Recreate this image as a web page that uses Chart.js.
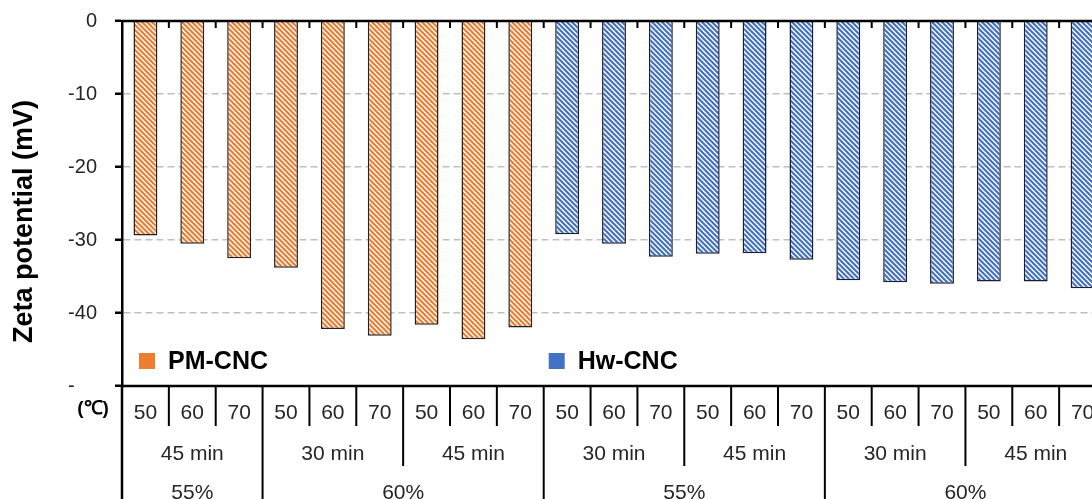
<!DOCTYPE html>
<html>
<head>
<meta charset="utf-8">
<script src="https://cdn.jsdelivr.net/npm/chart.js@4.4.0/dist/chart.umd.min.js"></script>
<style>
  html, body { margin: 0; padding: 0; background: #fff; overflow: hidden; width: 1092px; height: 499px; }
  #wrap { position: absolute; left: 0; top: 0; width: 1112px; height: 540px; }
</style>
</head>
<body>
<div id="wrap"><canvas id="c" width="1112" height="540"></canvas></div>
<script>
// ---- data ----
const temperatures = ['50','60','70','50','60','70','50','60','70','50','60','70','50','60','70','50','60','70','50','60','70'];
const times = ['45 min','45 min','45 min','30 min','30 min','30 min','45 min','45 min','45 min',
               '30 min','30 min','30 min','45 min','45 min','45 min','30 min','30 min','30 min','45 min','45 min','45 min'];
const concentrations = ['55%','55%','55%','60%','60%','60%','60%','60%','60%',
                        '55%','55%','55%','55%','55%','55%','60%','60%','60%','60%','60%','60%'];
const materials = ['PM-CNC','PM-CNC','PM-CNC','PM-CNC','PM-CNC','PM-CNC','PM-CNC','PM-CNC','PM-CNC',
                   'Hw-CNC','Hw-CNC','Hw-CNC','Hw-CNC','Hw-CNC','Hw-CNC','Hw-CNC','Hw-CNC','Hw-CNC','Hw-CNC','Hw-CNC','Hw-CNC'];
const pmValues = [-29.4, -30.5, -32.5, -33.8, -42.2, -43.1, -41.6, -43.6, -42.0,
                  null, null, null, null, null, null, null, null, null, null, null, null];
const hwValues = [null, null, null, null, null, null, null, null, null,
                  -29.2, -30.5, -32.3, -31.9, -31.8, -32.7, -35.5, -35.8, -36.0, -35.7, -35.7, -36.6];
const yTicks = [0, -10, -20, -30, -40, -50];
const yTickLabels = ['0', '-10', '-20', '-30', '-40', '-\u2007\u2007'];
const yTitle = 'Zeta potential (mV)';
const unitLabel = '(\u2103)';

// ---- styling ----
const FONT = "'Liberation Sans', Arial, sans-serif";
const TEXT = '#262626';
const canvas = document.getElementById('c');
const mainCtx = canvas.getContext('2d');

function hatch(color) {
  const s = 5;
  const c = document.createElement('canvas');
  c.width = s; c.height = s;
  const g = c.getContext('2d');
  g.fillStyle = '#ffffff';
  g.fillRect(0, 0, s, s);
  g.strokeStyle = color;
  g.lineWidth = 2.2;
  g.beginPath();
  g.moveTo(-1, -1); g.lineTo(s + 1, s + 1);
  g.moveTo(-2, s - 2); g.lineTo(2, s + 2);
  g.moveTo(s - 2, -2); g.lineTo(s + 2, 2);
  g.stroke();
  return mainCtx.createPattern(c, 'repeat');
}

const seriesColors = ['#ED7D31', '#4472C4'];
const legendOffsets = [25, 13];

function runs(keys) {
  const out = [];
  for (let i = 0; i < keys.length; i++) {
    if (i === 0 || keys[i] !== keys[i - 1]) out.push({ from: i, to: i });
    else out[out.length - 1].to = i;
  }
  return out;
}

const tablePlugin = {
  id: 'tablePlugin',
  afterDatasetsDraw(chart) {
    const { ctx, chartArea: a, scales: { x, y } } = chart;
    const n = chart.data.labels.length;
    const y0 = y.getPixelForValue(0);
    const yB = y.getPixelForValue(-50);
    const half = (x.getPixelForValue(1) - x.getPixelForValue(0)) / 2;
    const edge = i => x.getPixelForValue(i) - half;
    const bottom = chart.height;

    ctx.save();
    ctx.strokeStyle = '#000';
    ctx.lineCap = 'butt';
    const line = (x1, y1, x2, y2, w) => {
      ctx.lineWidth = w;
      ctx.beginPath(); ctx.moveTo(x1, y1); ctx.lineTo(x2, y2); ctx.stroke();
    };
    // zero (category) axis and inside ticks
    line(a.left, y0, a.right, y0, 2.5);
    for (let i = 1; i < n; i++) line(edge(i), y0, edge(i), y0 + 7, 2);
    // table top line
    line(a.left, yB, a.right, yB, 2.5);
    // left border continues down
    line(a.left, yB, a.left, bottom, 2.5);
    // separators
    for (let i = 1; i < n; i++) {
      let yEnd;
      if (materials[i] !== materials[i - 1] || concentrations[i] !== concentrations[i - 1]) yEnd = bottom;
      else if (times[i] !== times[i - 1]) yEnd = yB + 80;
      else yEnd = yB + 40;
      line(edge(i), yB, edge(i), yEnd, 2);
    }

    // texts
    ctx.fillStyle = TEXT;
    ctx.textAlign = 'center';
    ctx.textBaseline = 'middle';
    ctx.font = '21px ' + FONT;
    for (let i = 0; i < n; i++) ctx.fillText(temperatures[i], x.getPixelForValue(i), yB + 27);
    const timeKeys = times.map((t, i) => materials[i] + concentrations[i] + t);
    runs(timeKeys).forEach(r => {
      const cx = (x.getPixelForValue(r.from) + x.getPixelForValue(r.to)) / 2;
      ctx.fillText(times[r.from], cx, yB + 68);
    });
    const concKeys = concentrations.map((c, i) => materials[i] + c);
    runs(concKeys).forEach(r => {
      const cx = (x.getPixelForValue(r.from) + x.getPixelForValue(r.to)) / 2;
      ctx.fillText(concentrations[r.from], cx, yB + 107);
    });
    ctx.font = 'bold 19px ' + FONT;
    ctx.fillStyle = '#000';
    ctx.fillText(unitLabel, a.left - 29, yB + 23);

    // legend
    const legendY = yB - 25;
    chart.data.datasets.forEach((ds, k) => {
      const first = ds.data.findIndex(v => v !== null);
      const cx = edge(first) + legendOffsets[k];
      ctx.fillStyle = seriesColors[k];
      ctx.fillRect(cx - 8, legendY - 8, 16, 16);
      ctx.fillStyle = '#000';
      ctx.font = 'bold 25px ' + FONT;
      ctx.textAlign = 'left';
      ctx.fillText(ds.label, cx + 21, legendY + 1);
    });

    // y title
    ctx.save();
    ctx.translate(25, (y0 + yB) / 2 + 18);
    ctx.rotate(-Math.PI / 2);
    ctx.textAlign = 'center';
    ctx.textBaseline = 'middle';
    ctx.font = 'bold 27px ' + FONT;
    ctx.fillStyle = '#000';
    ctx.fillText(yTitle, 0, 0);
    ctx.restore();

    ctx.restore();
  }
};

new Chart(canvas, {
  type: 'bar',
  data: {
    labels: temperatures,
    datasets: [
      { label: materials[0], data: pmValues, backgroundColor: hatch(seriesColors[0]),
        borderColor: '#222', borderWidth: 1.5, borderSkipped: 'start' },
      { label: materials[materials.length - 1], data: hwValues, backgroundColor: hatch(seriesColors[1]),
        borderColor: '#1a1f33', borderWidth: 1.5, borderSkipped: 'start' }
    ]
  },
  options: {
    responsive: false,
    animation: false,
    devicePixelRatio: 1,
    layout: { padding: { top: 21, right: 6, bottom: 154, left: 0 } },
    datasets: { bar: { barPercentage: 0.51, categoryPercentage: 1 } },
    plugins: { legend: { display: false }, tooltip: { enabled: false } },
    scales: {
      x: { display: false, stacked: true },
      y: {
        min: -50, max: 0,
        afterBuildTicks(s) { s.ticks = yTicks.map(v => ({ value: v })); },
        afterFit(s) { s.width = 122; s.paddingTop = 0; s.paddingBottom = 0; },
        ticks: {
          color: TEXT, padding: 18, font: { size: 20, family: FONT },
          callback: (v) => yTickLabels[yTicks.indexOf(v)]
        },
        grid: {
          color: c => (c.tick && (c.tick.value === 0 || c.tick.value === -50)) ? 'rgba(0,0,0,0)' : '#bfbfbf',
          lineWidth: 1.5, tickLength: 7, tickColor: '#000', tickWidth: 2.5
        },
        border: { display: true, color: '#000', width: 2.5, dash: [7, 4] }
      }
    }
  },
  plugins: [tablePlugin]
});
</script>
</body>
</html>
